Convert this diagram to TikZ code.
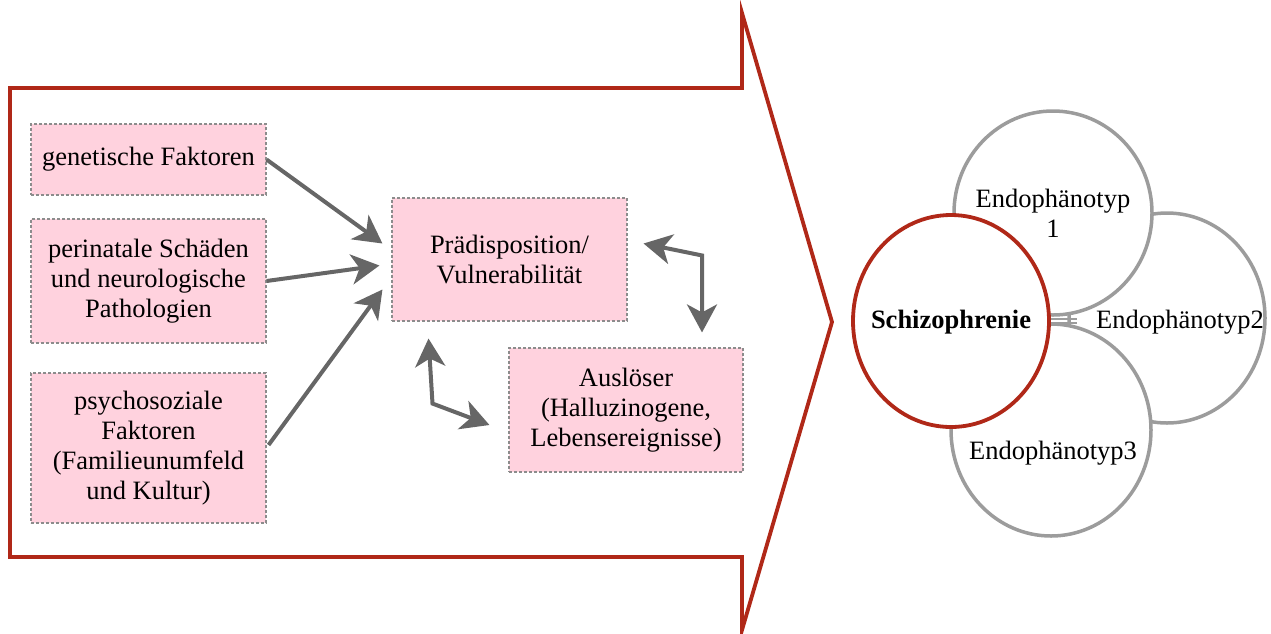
\documentclass[tikz,border=0pt]{standalone}
\usepackage{fontspec}
\setmainfont{Liberation Serif}
\usetikzlibrary{arrows.meta,calc,shapes.geometric}
\definecolor{boxpink}{HTML}{FFD2DE}
\definecolor{arrred}{HTML}{B02818}
\definecolor{conngray}{HTML}{666666}
\definecolor{circgray}{HTML}{9C9C9C}
\definecolor{dashgray}{HTML}{8C8C8C}
\begin{document}
\begin{tikzpicture}[x=1pt,y=-1pt,
  txt/.style={align=center, font=\fontsize{26.5}{30}\selectfont},
  factor/.style={txt, draw=dashgray, dash pattern=on 3pt off 2pt, line width=1.1pt, fill=boxpink,
    inner sep=0pt},
  tip/.style={Stealth[length=28pt,width=30pt,inset=8pt]},
  conn/.style={draw=conngray, line width=4pt, {Stealth[length=28pt,width=30pt,inset=8pt]}-{Stealth[length=28pt,width=30pt,inset=8pt]}},
  oneway/.style={draw=conngray, line width=4pt, -{Stealth[length=28pt,width=30pt,inset=8pt]}},
  endo/.style={ellipse, draw=circgray, line width=3.5pt, fill=white, inner sep=0pt},
  bigarrow/.style={draw=arrred, line width=3.8pt, line join=miter}]
\useasboundingbox (0,0) rectangle (1271,633);

% big arrow
\draw[bigarrow] (10,88) -- (742,88) -- (742,13) -- (832,322) -- (742,630) -- (742,557) -- (10,557) -- cycle;

% factor boxes
\node[factor, minimum width=235pt, minimum height=71pt] (gen) at (148.5,159.5) {genetische Faktoren};
\node[factor, minimum width=235pt, minimum height=124pt] (per) at (148.5,281) {perinatale Schäden\\und neurologische\\Pathologien};
\node[factor, minimum width=235pt, minimum height=150pt] (psy) at (148.5,448) {psychosoziale\\Faktoren\\(Familieunumfeld\\und Kultur)};
\node[factor, minimum width=235pt, minimum height=123pt] (pred) at (509.5,259.5) {Prädisposition/\\Vulnerabilität};
\node[factor, minimum width=234pt, minimum height=124pt] (aus) at (626,410) {Auslöser\\(Halluzinogene,\\Lebensereignisse)};

% connectors
\draw[oneway] (gen.east) -- ([shift={(-9,-16)}]pred.west);
\draw[oneway] (per.east) -- ([shift={(-12,6)}]pred.west);
\draw[oneway] ([shift={(2,-3)}]psy.east) -- ([shift={(-9,30)}]pred.west);
\draw[conn] ([shift={(16,-16)}]pred.east) -- ([shift={(76,-92)}]aus.north) -- ([shift={(76,-15)}]aus.north);
\draw[conn] ([shift={(-81,17)}]pred.south) -- ([shift={(-77,82)}]pred.south) -- ([shift={(-19,15)}]aus.west);

% circles
\node[endo, minimum width=196pt, minimum height=210pt] (e2) at (1167,318) {};
\node[endo, minimum width=198pt, minimum height=204pt] (e1) at (1053,213) {};
\node[endo, minimum width=200pt, minimum height=212pt] (e3) at (1051,430) {};
\node[ellipse, draw=arrred, line width=3.8pt, fill=white, inner sep=0pt,
  minimum width=196pt, minimum height=212pt] (sz) at (951,321) {};
\node[txt] (e1t) at (1053,213) {Endophänotyp\\1};
\node[txt] (e2t) at (1180,322) {Endophänotyp2};
\node[txt] (e3t) at (1053,453) {Endophänotyp3};
\node[txt, font=\bfseries\fontsize{26.5}{30}\selectfont] (szt) at (951,322) {Schizophrenie};
\draw[circgray, line width=1.2pt] ([yshift=-2pt]sz.east) -- ++(26,0);
\draw[circgray, line width=1.2pt] ([yshift=2pt]sz.east) -- ++(26,0);
\end{tikzpicture}
\end{document}
